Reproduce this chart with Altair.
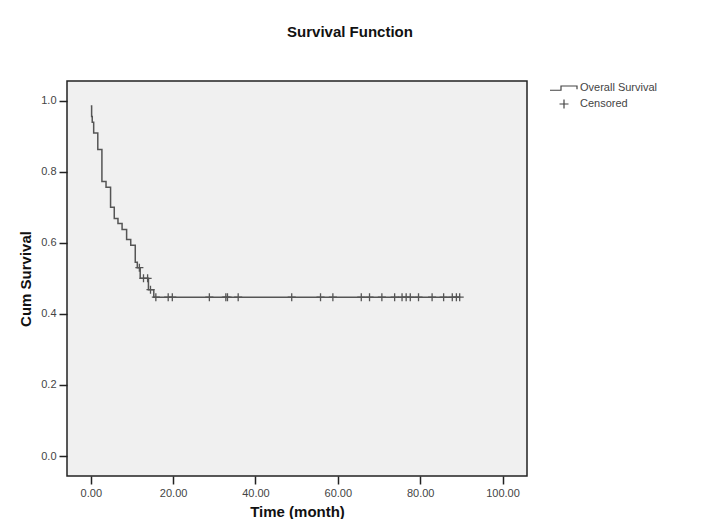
import altair as alt
import pandas as pd

# Kaplan-Meier step curve (time in months, cumulative survival after each drop)
step_time = [0.0, 0.2, 0.35, 0.7, 1.7, 2.7, 3.7, 4.8, 5.7, 6.6, 7.6, 8.7, 9.7, 10.8, 11.3, 12.0, 14.0, 15.3, 89.6]
step_surv = [0.985, 0.955, 0.939, 0.909, 0.862, 0.772, 0.756, 0.700, 0.668, 0.654, 0.637, 0.609, 0.593, 0.545, 0.530, 0.500, 0.468, 0.447, 0.447]

# Censored observations
cens_time = [11.8, 12.8, 13.8, 14.5, 15.8, 18.8, 19.8, 28.8, 32.8, 33.2, 35.8, 48.8, 55.8, 58.8,
             65.7, 67.7, 70.7, 73.8, 75.6, 76.6, 77.6, 79.6, 82.9, 85.7, 87.8, 88.8, 89.6]
cens_surv = [0.530, 0.500, 0.500, 0.468] + [0.447] * 23

x_ticks = [0, 20, 40, 60, 80, 100]
y_ticks = [0.0, 0.2, 0.4, 0.6, 0.8, 1.0]

series_names = ["Overall Survival", "Censored"]

step_df = pd.DataFrame({"time": step_time, "surv": step_surv})
cens_df = pd.DataFrame({"time": cens_time, "surv": cens_surv, "series": "Censored"})

STEP_PATH = "M-2.8,0.45H-0.6V-0.4H2.6V0.25"
CROSS_PATH = "M-0.9,0H0.9M0,-0.9V0.9"

FONT = "Liberation Sans"
GRAY = "#555555"

x_scale = alt.Scale(domain=[-5.78, 105.95], nice=False, zero=False)
y_scale = alt.Scale(domain=[-0.056, 1.055], nice=False, zero=False)

x_enc = alt.X("time:Q", scale=x_scale,
              axis=alt.Axis(title="Time (month)", values=x_ticks, format=".2f"))
y_enc = alt.Y("surv:Q", scale=y_scale,
              axis=alt.Axis(title="Cum Survival", values=y_ticks, format=".1f"))

line = alt.Chart(step_df).mark_line(interpolate="step-after", color=GRAY, strokeWidth=1.5).encode(
    x=x_enc, y=y_enc
)

points = alt.Chart(cens_df).mark_point(filled=False, color=GRAY, strokeWidth=1.3, size=80, opacity=1).encode(
    x="time:Q",
    y="surv:Q",
    shape=alt.Shape("series:N",
                    scale=alt.Scale(domain=series_names, range=[STEP_PATH, CROSS_PATH]),
                    legend=alt.Legend(title=None, orient="none", legendX=491, legendY=1,
                                      symbolSize=100, symbolStrokeColor="#444444",
                                      symbolFillColor="transparent", symbolStrokeWidth=1.2,
                                      labelFont=FONT, labelFontSize=11, labelColor="#444444",
                                      labelOffset=10, rowPadding=4)),
)

chart = alt.layer(line, points).properties(
    width=460,
    height=395,
    title=alt.Title("Survival Function", font=FONT, fontSize=15, fontWeight="bold",
                    color="#111111", anchor="middle", offset=41, dx=53),
    autosize=alt.AutoSizeParams(type="none"),
    padding={"left": 59, "top": 73, "right": 166, "bottom": 43},
).configure_view(
    fill="#f0f0f0", stroke="#222222", strokeWidth=1.5
).configure_axis(
    domain=False, grid=False,
    tickColor="#222222", tickWidth=1.5, tickSize=8,
    labelFont=FONT, labelFontSize=11, labelColor="#444444", labelPadding=3,
    titleFont=FONT, titleFontSize=15, titleFontWeight="bold", titleColor="#111111",
).configure_axisX(
    titlePadding=6
).configure_axisY(
    titlePadding=7
)

chart.save("out.html", embed_options={"renderer": "svg", "actions": False})
